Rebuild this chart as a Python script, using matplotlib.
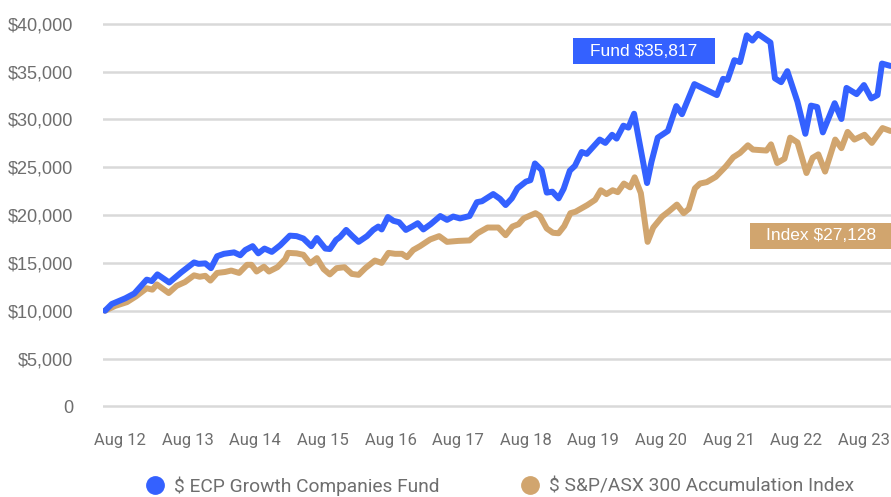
"""
Growth of $10,000: ECP Growth Companies Fund vs S&P/ASX 300 Accumulation Index
"""

import matplotlib
matplotlib.use("Agg")
import matplotlib.pyplot as plt
from matplotlib.lines import Line2D
from matplotlib.patches import Rectangle

# months since Aug 2012 and growth of $10,000
fund_months = [0.0, 1.2, 3.6, 5.2, 7.4, 8.3, 9.3, 11.4, 13.5, 15.8, 16.6, 17.8, 18.8,
               19.9, 21.1, 22.9, 24.0, 24.9, 26.2, 27.2, 28.3, 29.6, 31.1, 32.8, 34.0,
               35.2, 36.6, 37.6, 39.1, 39.9, 41.0, 41.7, 42.8, 43.9, 45.0, 46.5, 47.6,
               48.5, 49.1, 50.2, 51.2, 52.2, 53.4, 54.5, 55.5, 56.5, 57.8, 59.5, 60.7,
               61.8, 63.0, 64.7, 66.0, 66.9, 68.9, 70.1, 71.1, 72.2, 73.2, 74.7, 75.5,
               76.3, 77.5, 78.4, 79.4, 80.5, 81.4, 82.5, 83.4, 84.6, 85.5, 87.8, 88.8,
               90.0, 90.8, 92.0, 92.9, 93.9, 96.2, 97.0, 98.1, 99.9, 101.4, 102.4, 104.6,
               108.6, 109.7, 110.5, 111.7, 112.7, 113.9, 114.9, 115.9, 118.1, 118.9,
               120.0, 121.1, 122.9, 124.3, 125.3, 126.4, 127.4, 129.5, 130.7, 131.6,
               133.4, 134.7, 136.0, 137.1, 137.9, 139.4]
fund_values = [10000, 10700, 11300, 11800, 13250, 13100, 13800, 12950, 14000, 15050,
               14900, 14950, 14450, 15700, 15950, 16100, 15800, 16350, 16750, 16000,
               16500, 16150, 16850, 17850, 17800, 17550, 16750, 17600, 16500, 16450,
               17400, 17700, 18450, 17800, 17200, 17800, 18450, 18800, 18500, 19800,
               19400, 19250, 18450, 18800, 19150, 18500, 19050, 19900, 19500, 19850,
               19650, 19900, 21350, 21450, 22200, 21700, 21050, 21750, 22800, 23500,
               23650, 25400, 24700, 22350, 22450, 21750, 22750, 24650, 25150, 26600,
               26400, 27900, 27550, 28400, 28000, 29350, 29150, 30600, 23350, 25600,
               28100, 28800, 31400, 30550, 33700, 32550, 34250, 34150, 36200, 36000,
               38800, 38250, 38950, 38050, 34300, 33900, 35050, 31850, 28500, 31450,
               31300, 28650, 31700, 30050, 33300, 32650, 33600, 32200, 32550, 35850,
               35600]

index_months = [0.0, 1.8, 3.9, 5.5, 7.4, 8.4, 9.2, 11.3, 12.7, 14.2, 15.8, 16.8, 17.8,
                18.7, 19.9, 21.3, 22.4, 23.8, 25.2, 26.0, 26.9, 28.2, 29.1, 30.6, 32.0,
                32.5, 34.0, 35.2, 36.4, 37.6, 38.8, 39.9, 41.1, 42.5, 43.8, 45.0, 46.2,
                47.9, 49.1, 50.3, 51.5, 52.7, 53.6, 54.7, 55.9, 57.7, 59.3, 60.7, 62.7,
                64.7, 66.1, 67.9, 69.8, 71.1, 72.3, 73.4, 74.3, 76.4, 77.2, 78.4, 79.5,
                80.5, 81.5, 82.6, 83.5, 85.6, 87.0, 88.0, 89.0, 90.1, 91.0, 92.1, 93.2,
                94.0, 95.1, 96.3, 97.3, 98.9, 100.1, 101.5, 102.7, 103.6, 104.7, 105.6,
                106.8, 108.4, 110.2, 111.5, 112.7, 114.1, 115.0, 117.4, 118.2, 119.3,
                120.6, 121.6, 122.9, 124.5, 125.6, 126.6, 127.8, 129.6, 130.7, 131.8,
                133.0, 134.8, 136.1, 138.0, 139.4]
index_values = [10000, 10500, 10900, 11500, 12350, 12200, 12750, 11850, 12600, 13000,
                13700, 13550, 13650, 13150, 13950, 14050, 14200, 13950, 14800, 14800,
                14100, 14600, 14100, 14550, 15400, 16050, 16000, 15850, 14950, 15500,
                14350, 13800, 14450, 14550, 13850, 13750, 14450, 15250, 15000, 16050,
                15950, 15950, 15600, 16350, 16750, 17450, 17800, 17200, 17300, 17350,
                18100, 18700, 18700, 17900, 18800, 19050, 19650, 20200, 19900, 18600,
                18150, 18100, 18850, 20200, 20350, 21050, 21600, 22600, 22200, 22600,
                22400, 23300, 22900, 23950, 22300, 17200, 18700, 19850, 20400, 21100,
                20200, 20650, 22800, 23300, 23450, 24000, 25100, 26050, 26500, 27300,
                26850, 26750, 27400, 25450, 25900, 28100, 27600, 24400, 26000, 26350,
                24550, 27900, 27000, 28700, 27900, 28400, 27550, 29100, 28800]

year_labels = ["Aug 12", "Aug 13", "Aug 14", "Aug 15", "Aug 16", "Aug 17",
               "Aug 18", "Aug 19", "Aug 20", "Aug 21", "Aug 22", "Aug 23"]
y_ticks = [0, 5000, 10000, 15000, 20000, 25000, 30000, 35000, 40000]

BLUE = "#3461FF"
TAN = "#D1A56E"
GREY = "#6E6E6E"

fig = plt.figure(figsize=(8.91, 4.97), dpi=100)
ax = fig.add_axes([103 / 891, 0.1632, 1 - 103 / 891, 0.8167])

ax.plot(index_months, index_values, color=TAN, lw=4.3,
        solid_joinstyle="round", solid_capstyle="round", zorder=3)
ax.plot(fund_months, fund_values, color=BLUE, lw=4.3,
        solid_joinstyle="round", solid_capstyle="round", zorder=4)

ax.set_xlim(-0.36, 139.5)
ax.set_ylim(-1000, 41450)

# axis styling
for s in ax.spines.values():
    s.set_visible(False)
ax.set_yticks(y_ticks)
ax.set_yticklabels(["0" if v == 0 else f"${v:,}" for v in y_ticks],
                   fontsize=13.1, color=GREY, family="Liberation Sans")
ax.yaxis.grid(True, color="#D9D9D9", lw=1.8, zorder=0)
ax.tick_params(axis="y", length=0, pad=21.5)

ax.set_xticks([2.66 + 12 * i for i in range(len(year_labels))])
ax.set_xticklabels(year_labels, fontsize=12, color=GREY, family="Roboto")
ax.tick_params(axis="x", length=0, pad=12.5)

# end-value labels
fig.add_artist(Rectangle((573 / 891, 1 - 64 / 497), 142 / 891, 26 / 497,
                         transform=fig.transFigure, color=BLUE, lw=0))
fig.text(644 / 891, 1 - 51 / 497, "Fund $35,817", color="white", fontsize=12.5,
         family="Liberation Sans", ha="center", va="center")
fig.add_artist(Rectangle((750 / 891, 1 - 249 / 497), 145 / 891, 26 / 497,
                         transform=fig.transFigure, color=TAN, lw=0))
fig.text(821 / 891, 1 - 236 / 497, "Index $27,128", color="white", fontsize=12.5,
         family="Liberation Sans", ha="center", va="center")

# legend
handles = [Line2D([], [], marker="o", ls="", color=BLUE, markersize=12.5),
           Line2D([], [], marker="o", ls="", color=TAN, markersize=12.5)]
leg = fig.legend(handles, ["$ ECP Growth Companies Fund", "$ S&P/ASX 300 Accumulation Index"],
                 loc="center", bbox_to_anchor=(0.561, 1 - 486 / 497), ncol=2,
                 frameon=False, handlelength=1.0, handletextpad=0.5,
                 columnspacing=4.2, prop={"family": "Roboto", "size": 13.8})
for t in leg.get_texts():
    t.set_color(GREY)

fig.savefig("out.png", dpi=100)
